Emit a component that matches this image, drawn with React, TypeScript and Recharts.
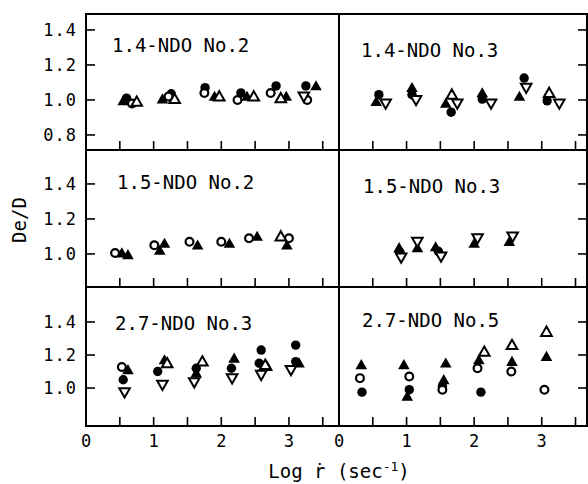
import { ReferenceArea, Scatter, ScatterChart, XAxis, YAxis } from "recharts";

type Pt = [number, number];

// 1.4-NDO No.2
const a1FilledCircle: Pt[] = [[0.6, 1.01], [1.26, 1.035], [1.76, 1.07], [2.29, 1.04], [2.81, 1.08], [3.25, 1.08]];
const a1OpenCircle: Pt[] = [[0.68, 0.98], [1.22, 1.02], [1.75, 1.04], [2.24, 1.0], [2.73, 1.04], [3.27, 1.0]];
const a1FilledTri: Pt[] = [[0.55, 0.995], [1.13, 1.005], [1.9, 1.02], [2.38, 1.02], [2.96, 1.02], [3.4, 1.08]];
const a1OpenTri: Pt[] = [[0.75, 0.99], [1.31, 1.005], [1.97, 1.02], [2.48, 1.02], [2.88, 1.01]];
const a1OpenDown: Pt[] = [[3.22, 1.02]];

// 1.4-NDO No.3
const b1FilledCircle: Pt[] = [[0.59, 1.03], [1.08, 1.03], [1.66, 0.93], [2.12, 1.005], [2.74, 1.125], [3.08, 0.995]];
const b1FilledTri: Pt[] = [[0.55, 0.99], [1.08, 1.07], [1.58, 0.98], [2.12, 1.04], [2.67, 1.02]];
const b1OpenTri: Pt[] = [[1.67, 1.03], [3.11, 1.04]];
const b1OpenDown: Pt[] = [[0.69, 0.98], [1.14, 1.0], [1.75, 0.98], [2.25, 0.98], [2.77, 1.07], [3.26, 0.98]];

// 1.5-NDO No.2
const c1OpenCircle: Pt[] = [[0.43, 1.005], [1.01, 1.05], [1.53, 1.07], [2.0, 1.07], [2.41, 1.09], [3.0, 1.09]];
const c1FilledTri: Pt[] = [[0.53, 1.005], [0.62, 0.995], [1.16, 1.06], [1.09, 1.02], [1.65, 1.05], [2.12, 1.06], [2.53, 1.1], [2.97, 1.05]];
const c1OpenTri: Pt[] = [[2.88, 1.1]];

// 1.5-NDO No.3
const d1FilledCircle: Pt[] = [[0.9, 1.01], [1.47, 1.015]];
const d1FilledTri: Pt[] = [[0.89, 1.035], [1.16, 1.035], [1.43, 1.04], [2.0, 1.06], [2.52, 1.07]];
const d1OpenDown: Pt[] = [[0.92, 0.98], [1.16, 1.07], [1.51, 0.985], [2.05, 1.09], [2.57, 1.1]];

// 2.7-NDO No.3
const e1FilledCircle: Pt[] = [[0.55, 1.05], [1.06, 1.1], [1.63, 1.12], [2.15, 1.12], [2.59, 1.23], [2.56, 1.15], [3.1, 1.26], [3.1, 1.16]];
const e1OpenCircle: Pt[] = [[0.53, 1.127]];
const e1FilledTri: Pt[] = [[0.62, 1.11], [1.16, 1.17], [1.63, 1.09], [2.19, 1.18], [2.68, 1.13], [3.15, 1.15]];
const e1OpenTri: Pt[] = [[1.2, 1.15], [1.72, 1.16], [2.65, 1.14]];
const e1OpenDown: Pt[] = [[0.57, 0.975], [1.13, 1.02], [1.6, 1.035], [2.16, 1.06], [2.59, 1.08], [3.03, 1.11]];

// 2.7-NDO No.5
const f1FilledCircle: Pt[] = [[0.34, 0.975], [1.04, 0.99], [1.53, 1.01], [2.1, 0.975]];
const f1OpenCircle: Pt[] = [[0.31, 1.06], [1.04, 1.07], [1.53, 0.99], [2.05, 1.12], [2.55, 1.1], [3.04, 0.99]];
const f1FilledTri: Pt[] = [[0.33, 1.14], [0.96, 1.14], [1.01, 0.95], [1.58, 1.15], [1.55, 1.05], [2.07, 1.17], [2.56, 1.16], [3.07, 1.19]];
const f1OpenTri: Pt[] = [[2.15, 1.22], [2.56, 1.26], [3.07, 1.34]];

const xTicks = [0.5, 1, 1.5, 2, 2.5, 3, 3.5];
const xTicksLabelled = [0, 0.5, 1, 1.5, 2, 2.5, 3, 3.5];
const yTicksTop = [0.8, 1.0, 1.2, 1.4];
const yTicksLower = [1.0, 1.2, 1.4];
const rowDomains: [number, number][] = [[0.714, 1.491], [0.811, 1.594], [0.77, 1.612]];
const colDomains: [number, number][] = [[0, 3.74], [0, 3.67]];

const FONT = "'DejaVu Sans Mono', monospace";

const FilledCircle = (p: any) => <circle cx={p.cx} cy={p.cy} r={4.7} fill="#000" />;
const OpenCircle = (p: any) => <circle cx={p.cx} cy={p.cy} r={3.9} fill="#fff" stroke="#000" strokeWidth={2.2} />;
const tri = (cx: number, cy: number, s: number, dir: number) =>
  `${cx},${cy - dir * s} ${cx + s},${cy + dir * s * 0.75} ${cx - s},${cy + dir * s * 0.75}`;
const FilledTri = (p: any) => <polygon points={tri(p.cx, p.cy, 5.8, 1)} fill="#000" />;
const OpenTri = (p: any) => <polygon points={tri(p.cx, p.cy, 5.3, 1)} fill="#fff" stroke="#000" strokeWidth={2} />;
const OpenDown = (p: any) => <polygon points={tri(p.cx, p.cy, 5.3, -1)} fill="#fff" stroke="#000" strokeWidth={2} />;

// tick marks only, no label
const NoLabel = () => <g />;

// bottom row: inward tick mark plus integer label below the axis
const BottomTick = (p: any) => {
  const v = p.payload.value as number;
  return (
    <g>
      {v > 0 && <line x1={p.x} x2={p.x} y1={p.y} y2={p.y - 9} stroke="#000" strokeWidth={1.6} />}
      {Number.isInteger(v) && (
        <text x={p.x} y={p.y + 8} dy="0.75em" textAnchor="middle" fill="#000" fontFamily={FONT} fontSize={17}>
          {v}
        </text>
      )}
    </g>
  );
};

type Series = { pts: Pt[]; shape: (p: any) => any };

const rowTops = [14, 150, 287];
const rowBottoms = [150, 287, 426];

function Panel({ row, col, series, title, titlePos }: { row: number; col: number; series: Series[]; title: string; titlePos: [number, number] }) {
  const plotTop = rowTops[row];
  const plotH = rowBottoms[row] - plotTop;
  const bottomRow = row === 2;
  const axisH = 34;
  const left = col === 0 ? 0 : 320;
  const width = col === 0 ? 341 : 268;
  const margin = col === 0
    ? { top: 2, right: 2, bottom: bottomRow ? 0 : 2, left: 0 }
    : { top: 2, right: 1, bottom: bottomRow ? 0 : 2, left: 19 };
  const tickLine = { stroke: "#000", strokeWidth: 1.6 };
  const yTicks = row === 0 ? yTicksTop : yTicksLower;
  const tickStyle = { fill: "#000", fontFamily: FONT, fontSize: 17, letterSpacing: 1 };
  const [x0, x1] = colDomains[col];
  const [y0, y1] = rowDomains[row];
  return (
    <>
      <div style={{ position: "absolute", left, top: plotTop - 2 }}>
        <ScatterChart width={width} height={plotH + 2 + (bottomRow ? axisH : 2)} margin={margin}>
          {bottomRow ? (
            <XAxis
              xAxisId="b"
              dataKey="x"
              type="number"
              domain={colDomains[col]}
              ticks={xTicksLabelled}
              interval={0}
              allowDataOverflow
              height={axisH}
              axisLine={false}
              tickLine={false}
              tickSize={0}
              tickMargin={0}
              tick={BottomTick}
            />
          ) : (
            <XAxis
              xAxisId="b"
              dataKey="x"
              type="number"
              domain={colDomains[col]}
              ticks={xTicks}
              interval={0}
              allowDataOverflow
              mirror
              axisLine={false}
              tickLine={tickLine}
              tickSize={9}
              tick={NoLabel}
            />
          )}
          {row === 0 && (
            <XAxis
              xAxisId="t"
              orientation="top"
              type="number"
              domain={colDomains[col]}
              ticks={xTicks}
              interval={0}
              allowDataOverflow
              mirror
              axisLine={false}
              tickLine={tickLine}
              tickSize={9}
              tick={NoLabel}
            />
          )}
          <YAxis
            yAxisId="l"
            dataKey="y"
            type="number"
            domain={rowDomains[row]}
            ticks={yTicks}
            interval={0}
            allowDataOverflow
            mirror
            axisLine={false}
            tickLine={col === 0 ? tickLine : false}
            tickSize={9}
            tick={NoLabel}
          />
          {col === 0 && (
            <YAxis
              yAxisId="lab"
              type="number"
              domain={rowDomains[row]}
              ticks={yTicks}
              interval={0}
              allowDataOverflow
              width={86}
              axisLine={false}
              tickLine={false}
              tickSize={0}
              tickMargin={9}
              tick={tickStyle}
              tickFormatter={(v: number) => v.toFixed(1)}
            />
          )}
          {col === 1 && (
            <YAxis
              yAxisId="r"
              orientation="right"
              type="number"
              domain={rowDomains[row]}
              ticks={yTicks}
              interval={0}
              allowDataOverflow
              mirror
              axisLine={false}
              tickLine={tickLine}
              tickSize={9}
              tick={NoLabel}
            />
          )}
          <ReferenceArea
            xAxisId="b"
            yAxisId="l"
            x1={x0}
            x2={x1}
            y1={y0}
            y2={y1}
            fill="none"
            fillOpacity={0}
            stroke="#000"
            strokeWidth={2}
            ifOverflow="visible"
          />
          {series.map((s, i) => (
            <Scatter
              key={i}
              xAxisId="b"
              yAxisId="l"
              data={s.pts.map(([x, y]) => ({ x, y }))}
              shape={s.shape}
              isAnimationActive={false}
            />
          ))}
        </ScatterChart>
      </div>
      <div
        style={{
          position: "absolute",
          left: titlePos[0],
          top: titlePos[1],
          fontFamily: FONT,
          fontSize: 19,
          lineHeight: "19px",
          whiteSpace: "nowrap",
          color: "#000",
        }}
      >
        {title}
      </div>
    </>
  );
}

export default function App() {
  return (
    <div style={{ position: "absolute", left: 0, top: 0, width: 588, height: 484, background: "#fff", overflow: "hidden" }}>
      <Panel
        row={0}
        col={0}
        title="1.4-NDO No.2"
        titlePos={[112, 36]}
        series={[
          { pts: a1FilledCircle, shape: FilledCircle },
          { pts: a1FilledTri, shape: FilledTri },
          { pts: a1OpenCircle, shape: OpenCircle },
          { pts: a1OpenTri, shape: OpenTri },
          { pts: a1OpenDown, shape: OpenDown },
        ]}
      />
      <Panel
        row={0}
        col={1}
        title="1.4-NDO No.3"
        titlePos={[361, 41]}
        series={[
          { pts: b1FilledCircle, shape: FilledCircle },
          { pts: b1FilledTri, shape: FilledTri },
          { pts: b1OpenTri, shape: OpenTri },
          { pts: b1OpenDown, shape: OpenDown },
        ]}
      />
      <Panel
        row={1}
        col={0}
        title="1.5-NDO No.2"
        titlePos={[117, 173]}
        series={[
          { pts: c1FilledTri, shape: FilledTri },
          { pts: c1OpenCircle, shape: OpenCircle },
          { pts: c1OpenTri, shape: OpenTri },
        ]}
      />
      <Panel
        row={1}
        col={1}
        title="1.5-NDO No.3"
        titlePos={[363, 177]}
        series={[
          { pts: d1FilledCircle, shape: FilledCircle },
          { pts: d1FilledTri, shape: FilledTri },
          { pts: d1OpenDown, shape: OpenDown },
        ]}
      />
      <Panel
        row={2}
        col={0}
        title="2.7-NDO No.3"
        titlePos={[115, 314]}
        series={[
          { pts: e1FilledCircle, shape: FilledCircle },
          { pts: e1FilledTri, shape: FilledTri },
          { pts: e1OpenCircle, shape: OpenCircle },
          { pts: e1OpenTri, shape: OpenTri },
          { pts: e1OpenDown, shape: OpenDown },
        ]}
      />
      <Panel
        row={2}
        col={1}
        title="2.7-NDO No.5"
        titlePos={[362, 311]}
        series={[
          { pts: f1FilledCircle, shape: FilledCircle },
          { pts: f1FilledTri, shape: FilledTri },
          { pts: f1OpenCircle, shape: OpenCircle },
          { pts: f1OpenTri, shape: OpenTri },
        ]}
      />
      <div
        style={{
          position: "absolute",
          left: -21,
          top: 210,
          width: 80,
          height: 20,
          lineHeight: "20px",
          textAlign: "center",
          transform: "rotate(-90deg)",
          fontFamily: FONT,
          fontSize: 19,
          color: "#000",
        }}
      >
        De/D
      </div>
      <div
        style={{
          position: "absolute",
          left: 189,
          top: 462,
          width: 300,
          textAlign: "center",
          fontFamily: FONT,
          fontSize: 19,
          lineHeight: "19px",
          color: "#000",
          whiteSpace: "nowrap",
        }}
      >
        Log ṙ (sec<sup style={{ fontSize: 13, lineHeight: 0 }}>-1</sup>)
      </div>
    </div>
  );
}
